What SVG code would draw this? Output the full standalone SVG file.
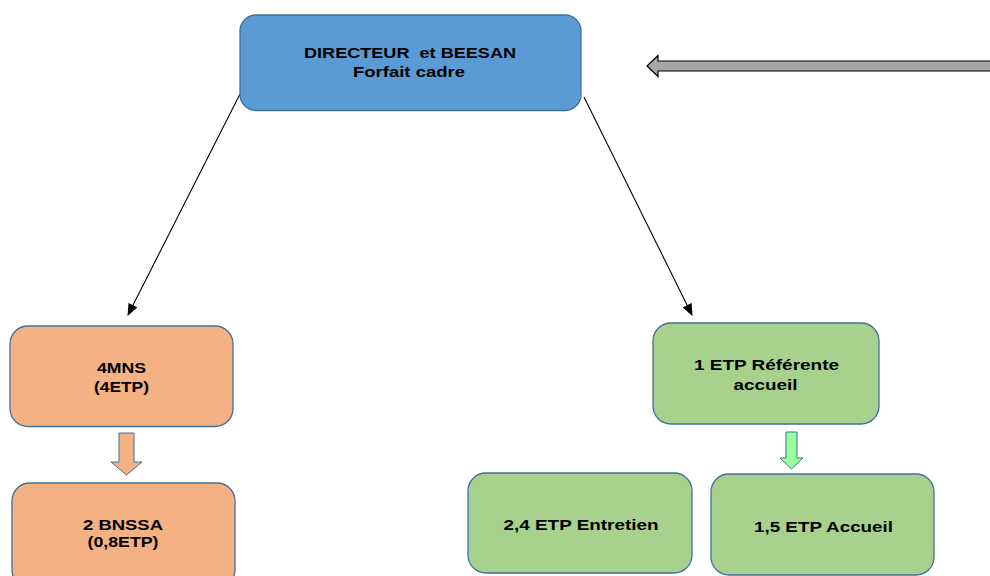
<svg xmlns="http://www.w3.org/2000/svg" width="990" height="576" viewBox="0 0 990 576">
<defs>
<style>
.box{stroke:#41719c;stroke-width:1.3}
.blue{fill:#5b9bd5}
.orange{fill:#f4b183}
.green{fill:#a9d18e}
text{font-family:"Liberation Sans",Arial,sans-serif;font-weight:bold;font-size:15px;fill:#000;text-anchor:middle}
.conn{stroke:#000;stroke-width:1.1;fill:none}
</style>
<marker id="ah" markerWidth="12" markerHeight="10" refX="11" refY="5" orient="auto" markerUnits="userSpaceOnUse">
<path d="M0,0 L12,5 L0,10 Z" fill="#000"/>
</marker>
</defs>
<rect width="990" height="576" fill="#fff"/>

<g id="connectors">
<line class="conn" x1="240" y1="94" x2="128" y2="315" marker-end="url(#ah)"/>
<line class="conn" x1="584" y1="97" x2="692" y2="315" marker-end="url(#ah)"/>
<path id="gray-arrow" d="M647,66 L658,55.5 L658,61 L992,61 L992,71 L658,71 L658,76.5 Z" fill="#a6a6a6" stroke="#000" stroke-width="1.2"/>
<path id="orange-arrow" d="M119,433 L134,433 L134,462 L142,462 L126.5,475 L111,462 L119,462 Z" fill="#f4b183" stroke="#41719c" stroke-width="1"/>
<path id="green-arrow" d="M786,432 L797,432 L797,458 L803,458 L791.5,469 L780,458 L786,458 Z" fill="#99ff99" stroke="#41719c" stroke-width="1"/>
</g>

<g id="directeur">
<rect class="box blue" x="240" y="15" width="341" height="95.5" rx="16"/>
<text x="410" y="58" textLength="212" lengthAdjust="spacingAndGlyphs" xml:space="preserve">DIRECTEUR  et BEESAN</text>
<text x="409" y="77" textLength="112" lengthAdjust="spacingAndGlyphs">Forfait cadre</text>
</g>

<g id="mns">
<rect class="box orange" x="10" y="326" width="223" height="100.5" rx="18"/>
<text x="121.5" y="373" textLength="49" lengthAdjust="spacingAndGlyphs">4MNS</text>
<text x="121.5" y="392" textLength="55" lengthAdjust="spacingAndGlyphs">(4ETP)</text>
</g>

<g id="bnssa">
<rect class="box orange" x="12" y="483" width="223" height="105" rx="18"/>
<text x="123" y="530" textLength="80" lengthAdjust="spacingAndGlyphs">2 BNSSA</text>
<text x="123" y="547" textLength="71" lengthAdjust="spacingAndGlyphs">(0,8ETP)</text>
</g>

<g id="referente">
<rect class="box green" x="653" y="323" width="226" height="101" rx="18"/>
<text x="766.5" y="370" textLength="145" lengthAdjust="spacingAndGlyphs">1 ETP Référente</text>
<text x="765.5" y="390" textLength="64" lengthAdjust="spacingAndGlyphs">accueil</text>
</g>

<g id="entretien">
<rect class="box green" x="468" y="473" width="224" height="100" rx="18"/>
<text x="581" y="530" textLength="155" lengthAdjust="spacingAndGlyphs">2,4 ETP Entretien</text>
</g>

<g id="accueil">
<rect class="box green" x="711" y="474" width="223" height="101" rx="18"/>
<text x="823.5" y="531.5" textLength="139" lengthAdjust="spacingAndGlyphs">1,5 ETP Accueil</text>
</g>
</svg>
